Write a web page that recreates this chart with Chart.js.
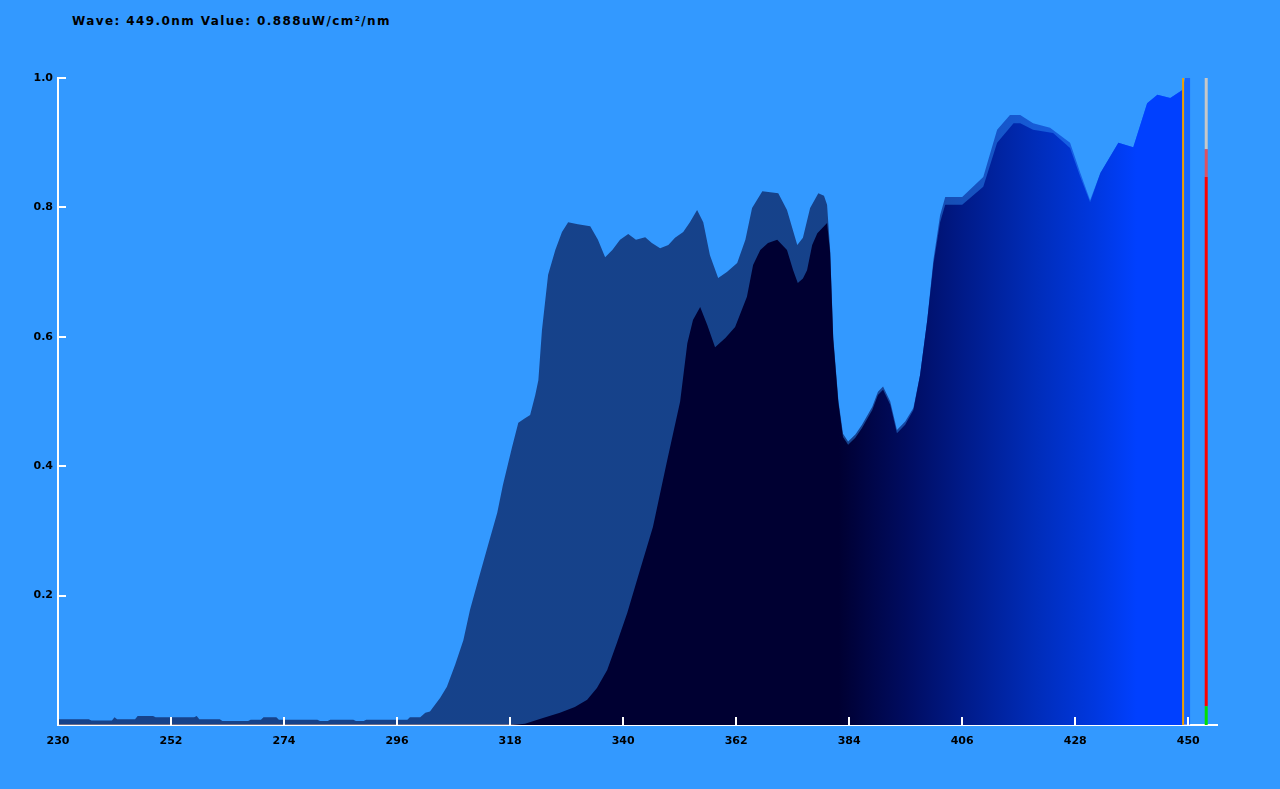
<!DOCTYPE html>
<html>
<head>
<meta charset="utf-8">
<script src="https://cdn.jsdelivr.net/npm/chart.js"></script>
<style>
  body { margin: 0; background: #3399ff; }
  .wrap { position: relative; width: 1280px; height: 789px; }
  .readout {
    position: absolute; left: 72px; top: 14px;
    font: bold 12px "DejaVu Sans", sans-serif; letter-spacing: 1.4px; color: #000;
  }
  canvas { position: absolute; left: 0; top: 0; }
</style>
</head>
<body>
<div class="wrap">
  <div class="readout">Wave: 449.0nm Value: 0.888uW/cm²/nm</div>
  <canvas id="chart" width="1280" height="789"></canvas>
</div>
<script>
// ticks
const xTicks = [230, 252, 274, 296, 318, 340, 362, 384, 406, 428, 450]
const yTicks = [0.2, 0.4, 0.6, 0.8, 1.0]

// reference spectrum (drawn behind, see-through)
const backWave = [230, 236, 236.5, 240.5, 241, 241.5, 245, 245.5, 248.5, 249, 256.5, 257, 257.5, 261.5, 262, 267, 267.5, 269.5, 270, 272.5, 273, 280.5, 281, 282.5, 283, 287.5, 288, 289.5, 290, 298, 298.5, 300.5,
  301.5, 302.4, 304.4, 305.7, 307.3, 308.9, 310.2, 311.8, 313.7, 315.5, 316.6, 318.4, 319.6, 320.9, 321.9, 322.9, 323.5, 324.2, 325.4, 326.8, 328.1, 329.3, 331.2, 333.6, 335.1, 336.5, 337.9, 339.4, 341, 342.5, 344.3, 345.6, 347.2, 348.8, 350.1, 351.7, 353, 354.4, 355.6, 356.9, 358.5, 360.2, 362.2, 363.8, 365.1, 367.1, 370.2, 371.9, 373.9, 375, 376.4, 378, 379.1, 379.7,
  380.3, 380.9, 381.9, 382.8, 383.8, 385.2, 386.5, 388.5, 389.6, 390.6, 392, 393.3, 394.9, 396.5, 397.8, 399.2, 400.4, 401.7, 402.7, 406, 410.1, 412.8, 415.3, 417.3, 419.8, 423.1, 427, 429, 430.9, 432.9, 436.4, 439.3, 442, 444, 446.5, 448.8, 449.4, 450.4]
const backValue = [0.009, 0.009, 0.007, 0.007, 0.012, 0.009, 0.009, 0.014, 0.014, 0.012, 0.012, 0.014, 0.009, 0.009, 0.006, 0.006, 0.008, 0.008, 0.012, 0.012, 0.008, 0.008, 0.006, 0.006, 0.008, 0.008, 0.006, 0.006, 0.008, 0.008, 0.012, 0.012,
  0.019, 0.021, 0.042, 0.059, 0.093, 0.131, 0.178, 0.224, 0.278, 0.328, 0.371, 0.430, 0.467, 0.474, 0.479, 0.510, 0.533, 0.610, 0.696, 0.734, 0.762, 0.777, 0.774, 0.771, 0.750, 0.723, 0.734, 0.750, 0.759, 0.750, 0.754, 0.745, 0.737, 0.742, 0.753, 0.762, 0.777, 0.796, 0.777, 0.726, 0.691, 0.700, 0.714, 0.750, 0.799, 0.825, 0.822, 0.796, 0.742, 0.753, 0.799, 0.822, 0.818, 0.804,
  0.734, 0.600, 0.502, 0.450, 0.438, 0.449, 0.464, 0.492, 0.515, 0.523, 0.500, 0.456, 0.469, 0.490, 0.541, 0.626, 0.719, 0.788, 0.816, 0.816, 0.847, 0.920, 0.943, 0.943, 0.930, 0.923, 0.900, 0.853, 0.811, 0.853, 0.900, 0.893, 0.961, 0.974, 0.969, 0.981, 1.0, 1.0]

// measured spectrum (front, coloured by wavelength)
const frontWave = [318, 320.9, 324.4, 327.7, 330.6, 333, 334.9, 336.9, 338.8, 340.8, 343.3, 345.8, 348.6, 351.1, 352.5, 353.6, 355, 356.4, 357.9, 359.9, 361.8, 364.1, 365.3, 366.7, 368.2, 370, 371.9, 373.1, 374, 375, 375.8, 376.8, 377.8, 379.7,
  380.3, 380.9, 381.9, 382.8, 383.8, 385.2, 386.5, 388.5, 389.6, 390.6, 392, 393.3, 394.9, 396.5, 397.8, 399.2, 400.4, 401.7, 402.7, 406, 410.1, 412.8, 416, 417.3, 419.8, 423.7, 427, 429, 430.9, 432.9, 436.4, 439.3, 442, 444, 446.5, 448.8, 449.2]
const frontValue = [0, 0.002, 0.011, 0.019, 0.028, 0.039, 0.057, 0.085, 0.127, 0.173, 0.240, 0.306, 0.410, 0.500, 0.590, 0.626, 0.646, 0.618, 0.584, 0.598, 0.615, 0.662, 0.711, 0.734, 0.745, 0.750, 0.734, 0.703, 0.683, 0.690, 0.703, 0.742, 0.760, 0.776,
  0.730, 0.596, 0.498, 0.445, 0.433, 0.444, 0.459, 0.487, 0.510, 0.518, 0.495, 0.451, 0.464, 0.487, 0.541, 0.626, 0.712, 0.777, 0.804, 0.804, 0.832, 0.900, 0.930, 0.930, 0.920, 0.915, 0.892, 0.847, 0.808, 0.853, 0.900, 0.893, 0.961, 0.974, 0.969, 0.981, 1.0]

// colour of the fill along the wavelength
const gradWave = [382, 395, 406, 420, 432, 440, 450]
const gradColor = ['0,0,50', '0,12,96', '0,26,136', '0,44,184', '0,56,224', '0,64,255', '0,64,255']

// cursor and level meter
const cursorWave = 449.0
const meterWave = 453.5
const meterLevels = [0, 0.029, 0.847, 0.89, 1.0]
const meterColors = ['#00e000', '#ff0000', '#e05060', '#c8c8c8']

const toPoints = (xs, ys) => xs.map((x, i) => ({ x: x, y: ys[i] }))

function spectrumFill(alpha) {
  return (ctx) => {
    const chart = ctx.chart
    const area = chart.chartArea
    if (!area) return 'rgba(0,0,50,' + alpha + ')'
    const xs = chart.scales.x
    const x0 = xs.getPixelForValue(gradWave[0])
    const x1 = xs.getPixelForValue(gradWave[gradWave.length - 1])
    const g = chart.ctx.createLinearGradient(x0, 0, x1, 0)
    gradWave.forEach((w, i) => {
      g.addColorStop((xs.getPixelForValue(w) - x0) / (x1 - x0), 'rgba(' + gradColor[i] + ',' + alpha + ')')
    })
    return g
  }
}

const datasets = []

datasets.push({
  data: [{ x: cursorWave, y: 0 }, { x: cursorWave, y: 1 }],
  borderColor: '#f0a000', borderWidth: 2, pointRadius: 0, fill: false, order: 0
})

for (let i = 0; i < meterColors.length; i++) {
  datasets.push({
    data: [{ x: meterWave, y: meterLevels[i] }, { x: meterWave, y: meterLevels[i + 1] }],
    borderColor: meterColors[i], borderWidth: 3, borderCapStyle: 'butt',
    pointRadius: 0, fill: false, order: 0
  })
}

datasets.push({
  data: toPoints(frontWave, frontValue),
  borderWidth: 0, pointRadius: 0, fill: 'origin',
  backgroundColor: spectrumFill(1), order: 1
})

datasets.push({
  data: toPoints(backWave, backValue),
  borderWidth: 0, pointRadius: 0, fill: 'origin',
  backgroundColor: spectrumFill(0.57), order: 2
})

// small white ticks pointing into the plot
const innerTicks = {
  id: 'innerTicks',
  afterDraw(chart) {
    const c = chart.ctx
    const a = chart.chartArea
    const xs = chart.scales.x
    const ys = chart.scales.y
    c.save()
    c.strokeStyle = '#ffffff'
    c.lineWidth = 2
    c.beginPath()
    xTicks.forEach(v => {
      const px = Math.round(xs.getPixelForValue(v))
      c.moveTo(px, a.bottom)
      c.lineTo(px, a.bottom - 8)
    })
    yTicks.forEach(v => {
      const py = Math.round(ys.getPixelForValue(v))
      c.moveTo(a.left, py)
      c.lineTo(a.left + 8, py)
    })
    c.stroke()
    c.restore()
  }
}

const tickFont = { family: 'DejaVu Sans', size: 11, weight: 'bold' }

new Chart(document.getElementById('chart'), {
  type: 'line',
  data: { datasets: datasets },
  plugins: [innerTicks],
  options: {
    responsive: false,
    animation: false,
    events: [],
    layout: { padding: { top: 78, right: 63, left: 0, bottom: 0 } },
    plugins: { legend: { display: false }, tooltip: { enabled: false } },
    scales: {
      x: {
        type: 'linear', min: 230, max: 455.6,
        grid: { display: false, tickLength: 0 },
        border: { display: true, color: '#ffffff', width: 2 },
        afterBuildTicks: s => { s.ticks = xTicks.map(v => ({ value: v })) },
        afterFit: s => { s.height = 64 },
        ticks: { color: '#000', font: tickFont, padding: 10, maxRotation: 0, autoSkip: false, callback: v => String(v) }
      },
      y: {
        min: 0, max: 1.0,
        grid: { display: false, tickLength: 0 },
        border: { display: true, color: '#ffffff', width: 2 },
        afterBuildTicks: s => { s.ticks = yTicks.map(v => ({ value: v })) },
        afterFit: s => { s.width = 58 },
        ticks: { color: '#000', font: tickFont, padding: 5, callback: v => v.toFixed(1) }
      }
    }
  }
})
</script>
</body>
</html>
